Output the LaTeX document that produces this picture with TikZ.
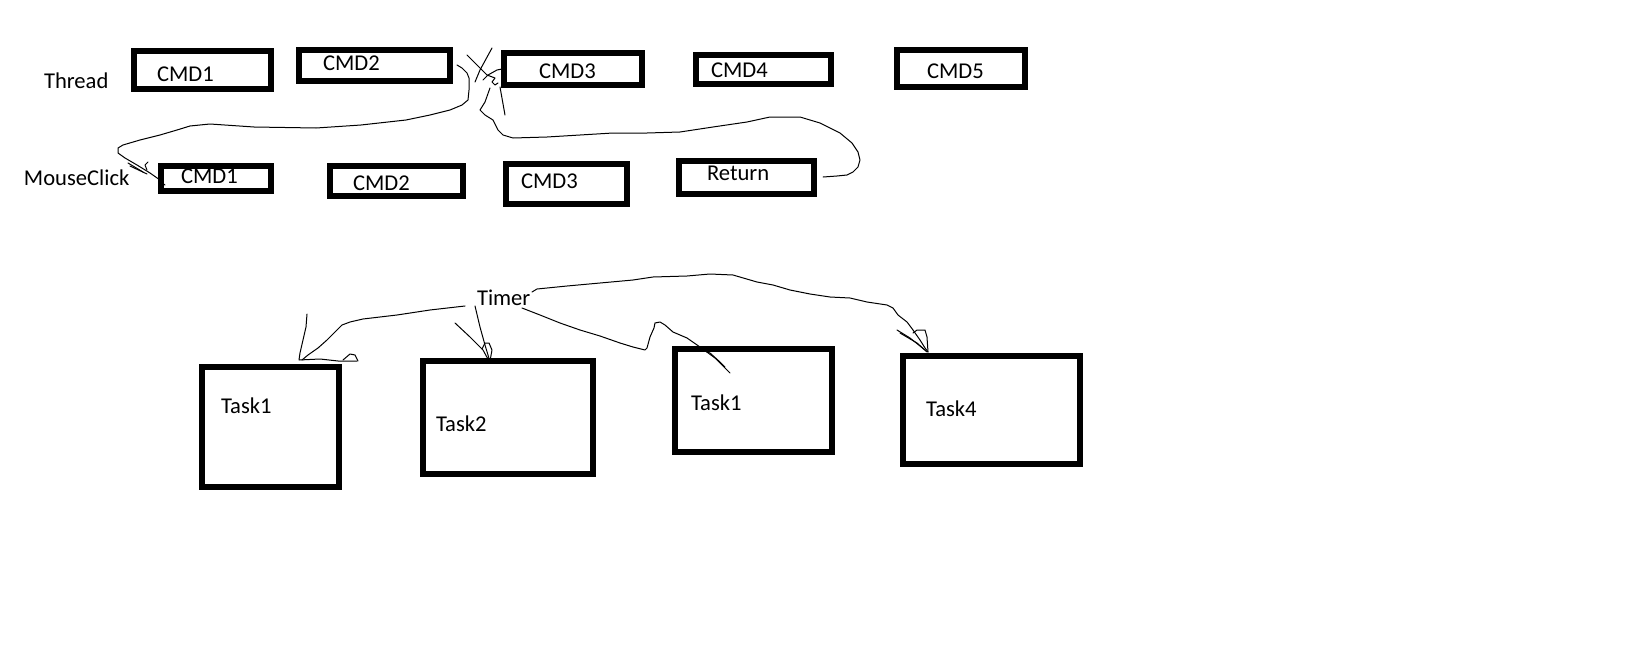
\documentclass[tikz,border=0pt]{standalone}
\usepackage{fontspec}
\setmainfont{Carlito}
\newcommand\pbox[5]{\node[box,minimum width={(#4-#2-5.5)*0.5pt},minimum height={(#5-#3-5.5)*0.5pt}] (#1) at ({(#2+#4)/2},{(#3+#5)/2}) {};}
\begin{document}
\begin{tikzpicture}[x=0.5pt,y=-0.5pt,
 box/.style={draw=black,line width=2.8pt,inner sep=0pt,outer sep=0pt},
 lbl/.style={anchor=base west,inner sep=0pt,outer sep=0pt,font=\fontsize{11.3pt}{13pt}\selectfont},
 pen/.style={draw=black,line width=0.5pt,line join=round,line cap=round}]
\useasboundingbox[fill=white] (0,0) rectangle (1635,648);

% Thread row
\pbox{tc1}{131}{48}{274}{92}
\pbox{tc2}{296}{47}{453}{84}
\pbox{tc3}{501}{50}{645}{88}
\pbox{tc4}{693}{52}{834}{87}
\pbox{tc5}{894}{47}{1028}{90}
% MouseClick row
\pbox{mc1}{158}{163}{274}{194}
\pbox{mc2}{327}{163}{466}{199}
\pbox{mc3}{503}{161}{630}{207}
\pbox{mret}{676}{158}{817}{197}
% Task row
\pbox{k1}{199}{364}{342}{490}
\pbox{k2}{420}{358}{596}{477}
\pbox{k3}{672}{346}{835}{455}
\pbox{k4}{900}{353}{1083}{467}

% labels
\node[lbl] (thread) at (44,88) {Thread};
\node[lbl] (ttc1) at (157,82) {CMD1};
\node[lbl] (ttc2) at (323,70) {CMD2};
\node[lbl] (ttc3) at (539,78) {CMD3};
\node[lbl] (ttc4) at (711,77) {CMD4};
\node[lbl] (ttc5) at (927,78) {CMD5};
\node[lbl] (mouse) at (24,185) {MouseClick};
\node[lbl] (tmc1) at (181,183) {CMD1};
\node[lbl] (tmc2) at (353,190) {CMD2};
\node[lbl] (tmc3) at (521,188) {CMD3};
\node[lbl] (tret) at (707,180) {Return};
\node[lbl] (timer) at (477,305) {Timer};
\node[lbl] (tk1) at (221,413) {Task1};
\node[lbl] (tk2) at (436,431) {Task2};
\node[lbl] (tk3) at (691,410) {Task1};
\node[lbl] (tk4) at (926,416) {Task4};

% named connector ends
\coordinate (a0) at (457,65);
\coordinate (a1) at (165,185);
\coordinate (b0) at (490,88);
\coordinate (b1) at (823,177);

% Thread -> MouseClick CMD1
\draw[pen] (a0) -- (462,68) -- (467,73) -- (469,78) -- (469,90) -- (468,100) -- (462,105) -- (450,110) -- (430,115) -- (406,120) -- (361,125) -- (316,128) -- (254,127) -- (210,124) -- (190,126) -- (177,130) -- (160,135) -- (140,140) -- (123,145) -- (118,148) -- (118,153) -- (125,158) -- (137,165) -- (150,173) -- (160,180) -- (162,183) -- (a1);
\draw[pen] (128,163) -- (143,172);
\draw[pen] (130,166) -- (147,174);
\draw[pen] (148,162) -- (145,165) -- (147,170);
% scribble near CMD2/CMD3
\draw[pen] (467,55) -- (482,70) -- (487,75);
\draw[pen] (492,48) -- (480,70) -- (475,82);
\draw[pen] (483,80) -- (488,75) -- (497,70) -- (502,69);
\draw[pen] (487,75) -- (495,78) -- (492,82) -- (495,85) -- (498,83);
\draw[pen] (500,87) -- (505,115);
% Return -> Thread
\draw[pen] (b0) -- (485,102) -- (480,110) -- (485,115) -- (493,120) -- (498,130) -- (503,135) -- (513,138) -- (547,137) -- (580,135) -- (613,133) -- (647,133) -- (680,132) -- (713,127) -- (747,122) -- (770,117) -- (800,117) -- (820,123) -- (840,133) -- (852,143) -- (858,152) -- (860,160) -- (858,167) -- (853,172) -- (847,175) -- (837,176) -- (b1);

% Timer -> Task1
\coordinate (c0) at (465,306);
\coordinate (c1) at (302,360);
\draw[pen] (c0) -- (430,310) -- (397,315) -- (363,319) -- (350,322) -- (342,325) -- (335,332) -- (327,340) -- (318,348) -- (308,355) -- (c1);
\draw[pen] (307,314) -- (306,327) -- (303,340) -- (300,353) -- (299,360) -- (320,359) -- (338,361) -- (357,361);
\draw[pen] (343,360) -- (350,354) -- (355,355) -- (358,361);
% Timer -> Task2
\coordinate (d0) at (475,306);
\coordinate (d1) at (490,362);
\draw[pen] (d0) -- (480,327) -- (485,345) -- (488,355) -- (d1);
\draw[pen] (455,323) -- (470,337) -- (483,350) -- (489,361);
\draw[pen] (482,349) -- (485,343) -- (489,343) -- (492,350) -- (490,361);
% Timer -> Task1 (second)
\coordinate (e0) at (522,308);
\coordinate (e1) at (730,373);
\draw[pen] (e0) -- (540,315) -- (560,323) -- (580,330) -- (600,336) -- (620,343) -- (633,347) -- (645,350) -- (647,348) -- (650,337) -- (654,328) -- (655,323) -- (660,322) -- (665,325) -- (673,332) -- (687,338) -- (700,347) -- (715,358) -- (e1);
\draw[pen] (697,348) -- (710,353) -- (720,362) -- (725,367);
% Timer -> Task4
\coordinate (f0) at (532,292);
\coordinate (f1) at (928,352);
\draw[pen] (f0) -- (537,289) -- (567,286) -- (600,283) -- (633,280) -- (653,277) -- (687,276) -- (710,274) -- (733,275) -- (757,282) -- (773,285) -- (790,290) -- (810,294) -- (830,297) -- (850,298) -- (867,302) -- (887,305) -- (893,308) -- (898,315) -- (907,322) -- (913,330) -- (920,340) -- (925,348) -- (f1);
\draw[pen] (897,330) -- (910,338) -- (925,350);
\draw[pen] (900,333) -- (917,343) -- (927,352);
\draw[pen] (913,333) -- (917,330) -- (925,330) -- (927,337) -- (928,352);
\end{tikzpicture}
\end{document}
